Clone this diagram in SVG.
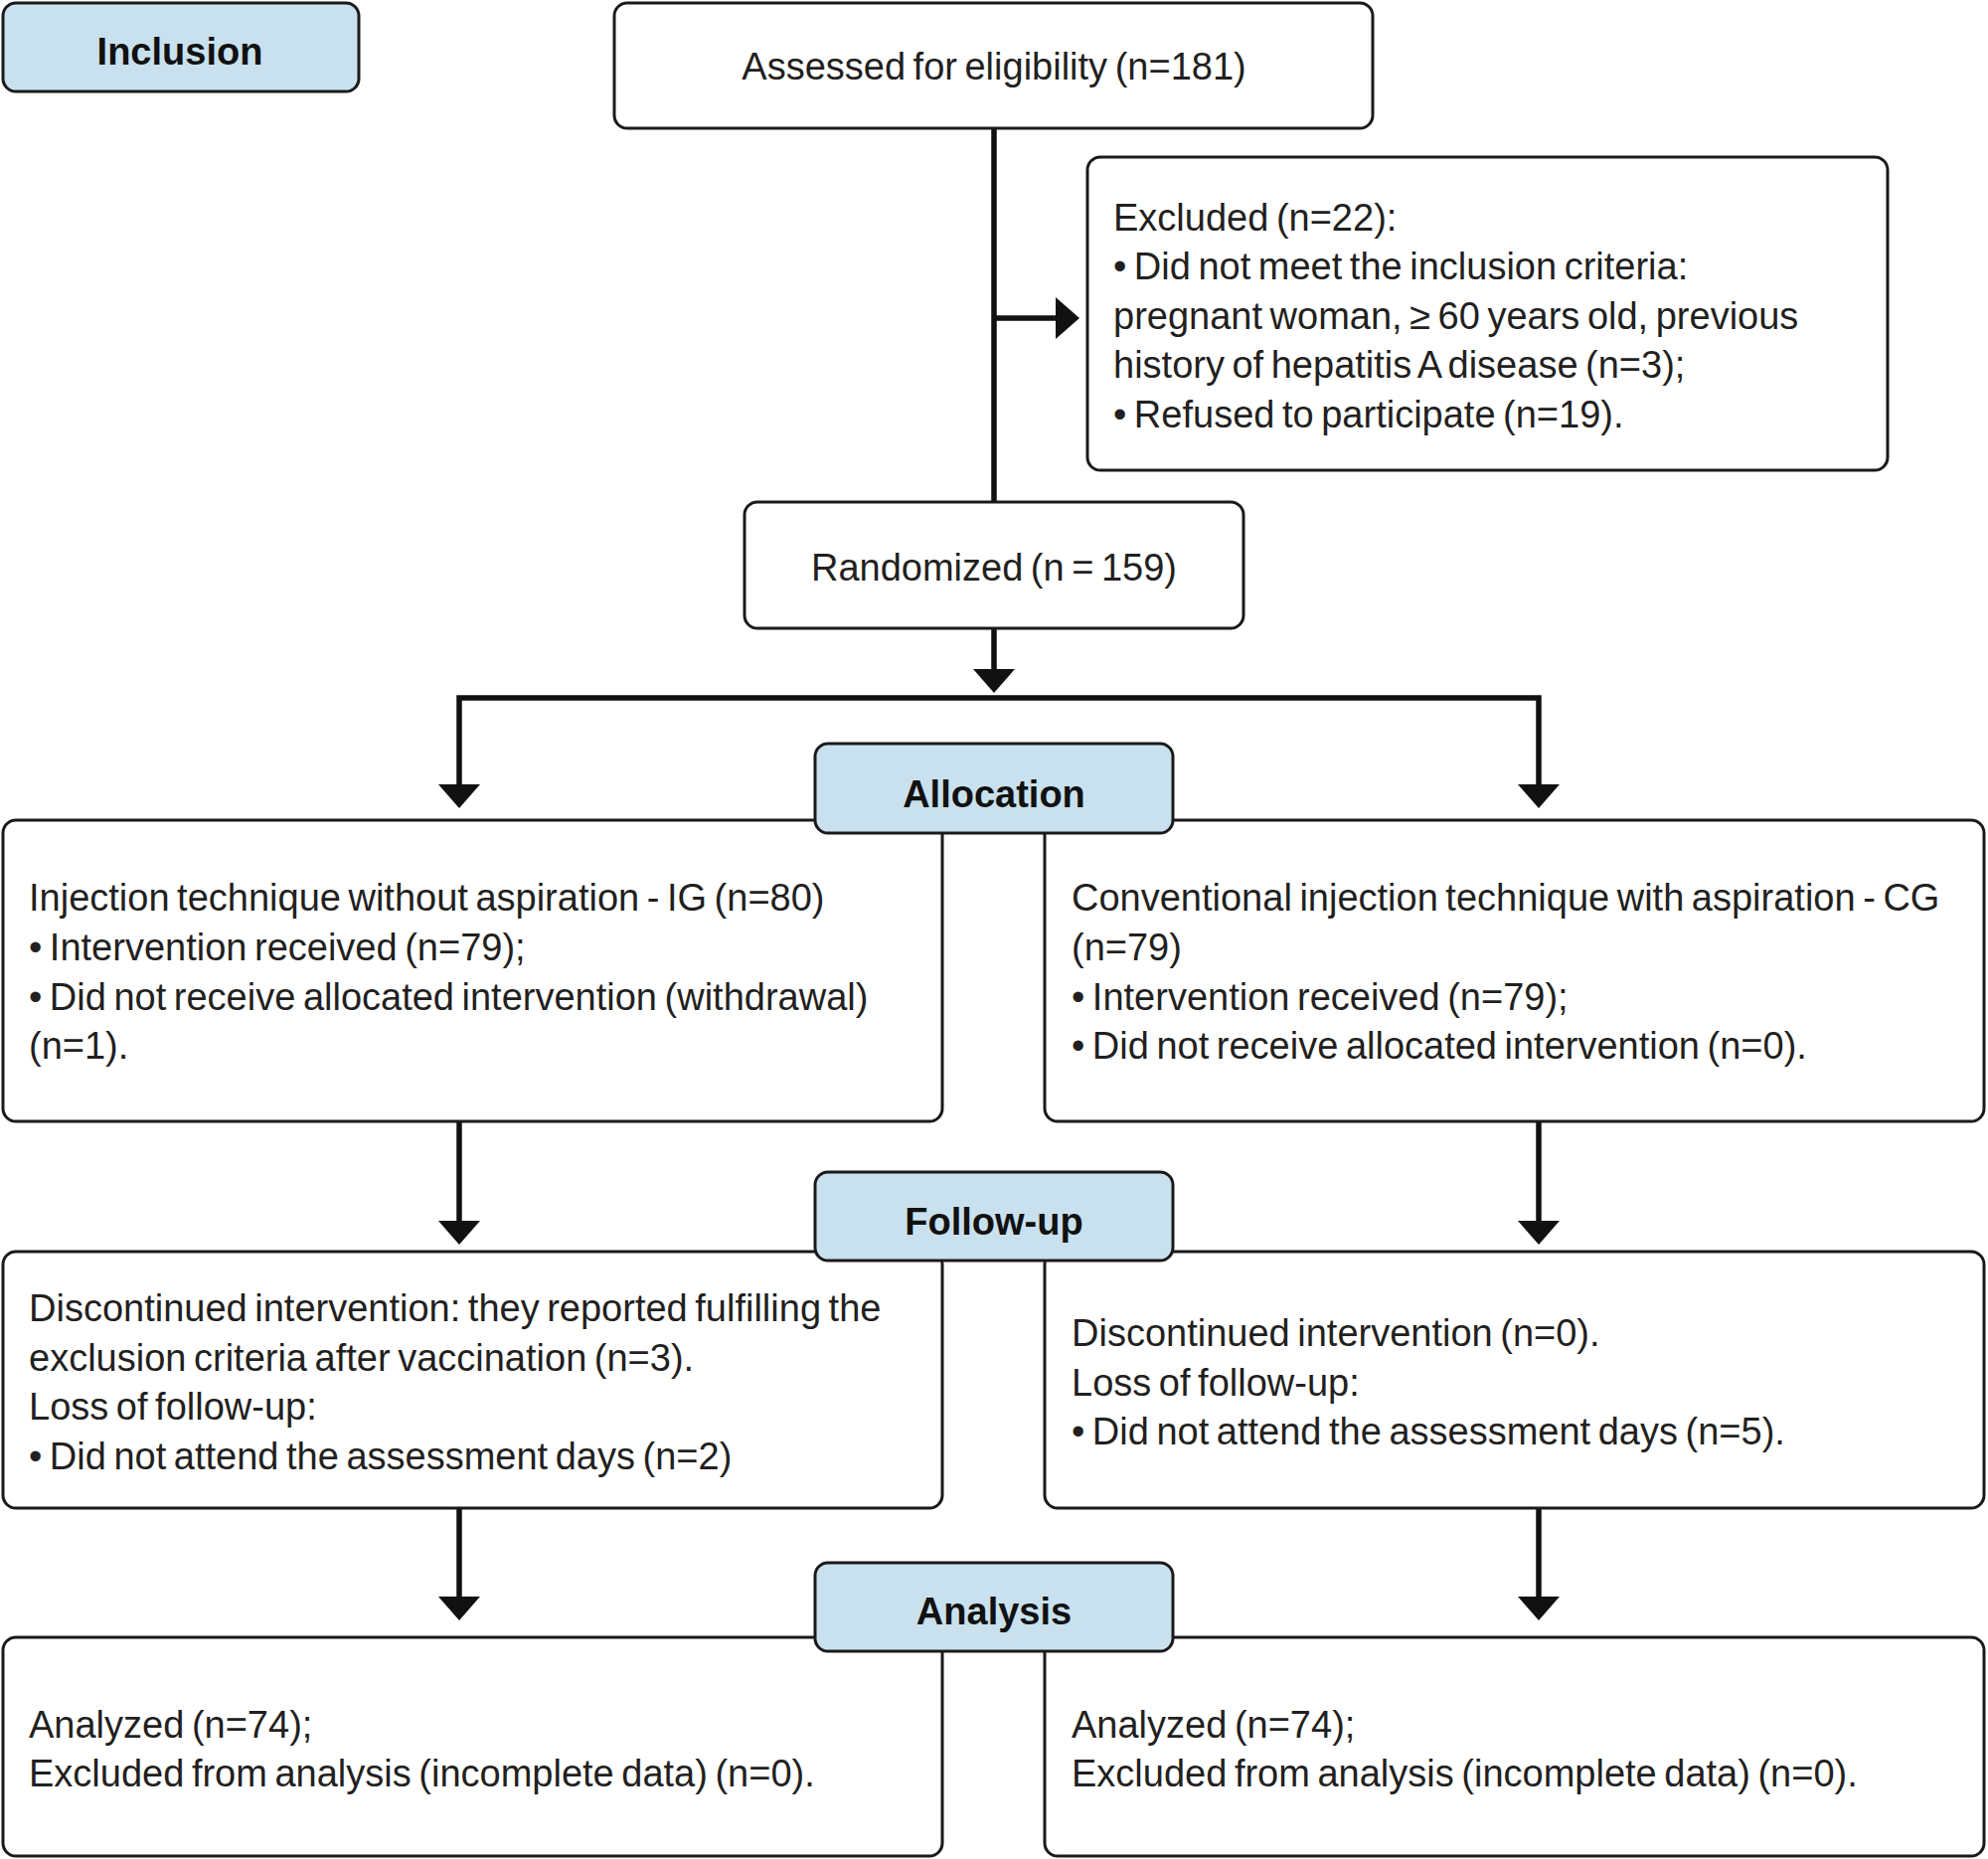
<svg xmlns="http://www.w3.org/2000/svg" width="2000" height="1870" viewBox="0 0 2000 1870">
<style>
.box{fill:#ffffff;stroke:#1a1a1a;stroke-width:3}
.lab{fill:#c9e1ee;stroke:#1a1a1a;stroke-width:3}
.t{font-family:"Liberation Sans",Arial,sans-serif;font-size:38px;word-spacing:-3px;fill:#231f20}
.b{font-family:"Liberation Sans",Arial,sans-serif;font-size:38px;font-weight:bold;fill:#111111}
.c{fill:none;stroke:#111111;stroke-width:5.5;stroke-linejoin:miter}
</style>
<defs>
<marker id="ah" markerUnits="userSpaceOnUse" markerWidth="24" markerHeight="42" refX="0" refY="21" orient="auto" viewBox="0 0 24 42">
<path d="M0,0 L24,21 L0,42 z" fill="#111111"/>
</marker>
</defs>
<rect width="2000" height="1870" fill="#ffffff"/>
<g id="connectors">
<path class="c" d="M1000,129 V505"/>
<path class="c" d="M1000,320 H1062" marker-end="url(#ah)"/>
<path class="c" d="M1000,633 V673" marker-end="url(#ah)"/>
<path class="c" d="M1000,702 H462 V789" marker-end="url(#ah)"/>
<path class="c" d="M1000,702 H1548 V789" marker-end="url(#ah)"/>
<path class="c" d="M462,1128 V1228" marker-end="url(#ah)"/>
<path class="c" d="M1548,1128 V1228" marker-end="url(#ah)"/>
<path class="c" d="M462,1517 V1606" marker-end="url(#ah)"/>
<path class="c" d="M1548,1517 V1606" marker-end="url(#ah)"/>
</g>
<g id="assessed">
<rect class="box" x="618" y="3" width="763" height="126" rx="13"/>
<text class="t" x="1000" y="80" text-anchor="middle">Assessed for eligibility (n=181)</text>
</g>
<g id="excluded">
<rect class="box" x="1094" y="158" width="805" height="315" rx="13"/>
<text class="t"><tspan x="1120" y="232">Excluded (n=22):</tspan><tspan x="1120" y="281">• Did not meet the inclusion criteria:</tspan><tspan x="1120" y="331">pregnant woman, ≥ 60 years old, previous</tspan><tspan x="1120" y="380">history of hepatitis A disease (n=3);</tspan><tspan x="1120" y="430">• Refused to participate (n=19).</tspan></text>
</g>
<g id="randomized">
<rect class="box" x="749" y="505" width="502" height="127" rx="13"/>
<text class="t" x="1000" y="584" text-anchor="middle">Randomized (n = 159)</text>
</g>
<g id="alloc-ig">
<rect class="box" x="3" y="825" width="945" height="303" rx="13"/>
<text class="t"><tspan x="29" y="916">Injection technique without aspiration - IG (n=80)</tspan><tspan x="29" y="966">• Intervention received (n=79);</tspan><tspan x="29" y="1016">• Did not receive allocated intervention (withdrawal)</tspan><tspan x="29" y="1065">(n=1).</tspan></text>
</g>
<g id="alloc-cg">
<rect class="box" x="1051" y="825" width="945" height="303" rx="13"/>
<text class="t"><tspan x="1078" y="916">Conventional injection technique with aspiration - CG</tspan><tspan x="1078" y="966">(n=79)</tspan><tspan x="1078" y="1016">• Intervention received (n=79);</tspan><tspan x="1078" y="1065">• Did not receive allocated intervention (n=0).</tspan></text>
</g>
<g id="follow-ig">
<rect class="box" x="3" y="1259" width="945" height="258" rx="13"/>
<text class="t"><tspan x="29" y="1329">Discontinued intervention: they reported fulfilling the</tspan><tspan x="29" y="1379">exclusion criteria after vaccination (n=3).</tspan><tspan x="29" y="1428">Loss of follow-up:</tspan><tspan x="29" y="1478">• Did not attend the assessment days (n=2)</tspan></text>
</g>
<g id="follow-cg">
<rect class="box" x="1051" y="1259" width="945" height="258" rx="13"/>
<text class="t"><tspan x="1078" y="1354">Discontinued intervention (n=0).</tspan><tspan x="1078" y="1404">Loss of follow-up:</tspan><tspan x="1078" y="1453">• Did not attend the assessment days (n=5).</tspan></text>
</g>
<g id="analysis-ig">
<rect class="box" x="3" y="1647" width="945" height="220" rx="13"/>
<text class="t"><tspan x="29" y="1748">Analyzed (n=74);</tspan><tspan x="29" y="1797">Excluded from analysis (incomplete data) (n=0).</tspan></text>
</g>
<g id="analysis-cg">
<rect class="box" x="1051" y="1647" width="945" height="220" rx="13"/>
<text class="t"><tspan x="1078" y="1748">Analyzed (n=74);</tspan><tspan x="1078" y="1797">Excluded from analysis (incomplete data) (n=0).</tspan></text>
</g>
<g id="inclusion">
<rect class="lab" x="3" y="3" width="358" height="89" rx="13"/>
<text class="b" x="181" y="65" text-anchor="middle">Inclusion</text>
</g>
<g id="allocation">
<rect class="lab" x="820" y="748" width="360" height="90" rx="13"/>
<text class="b" x="1000" y="812" text-anchor="middle">Allocation</text>
</g>
<g id="followup">
<rect class="lab" x="820" y="1179" width="360" height="89" rx="13"/>
<text class="b" x="1000" y="1242" text-anchor="middle">Follow-up</text>
</g>
<g id="analysis">
<rect class="lab" x="820" y="1572" width="360" height="89" rx="13"/>
<text class="b" x="1000" y="1634" text-anchor="middle">Analysis</text>
</g>
</svg>
